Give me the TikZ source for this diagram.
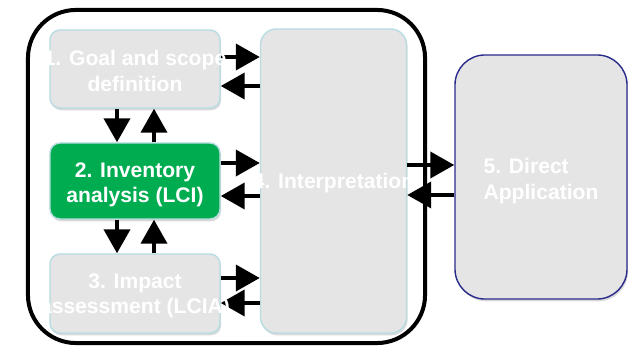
\documentclass[tikz,border=0pt]{standalone}
\usepackage{fontspec}
\setmainfont{Liberation Sans}
\usetikzlibrary{arrows.meta, calc, shadows}
\definecolor{boxGray}{RGB}{229, 229, 229}
\definecolor{boxEdge}{RGB}{183, 221, 226}
\definecolor{lciGreen}{RGB}{0, 172, 80}
\definecolor{appBlue}{RGB}{43, 43, 140}

\begin{document}
\begin{tikzpicture}[x=0.025cm, y=-0.025cm,
    stage/.style={draw=boxEdge, line width=1pt, fill=boxGray, rounded corners=0.25cm,
      minimum width=4.25cm, inner sep=0pt,
      drop shadow={opacity=0.3, shadow xshift=0.8pt, shadow yshift=-1.6pt}},
    stagetext/.style={text=white, font=\fontsize{15}{18}\selectfont\bfseries, align=center, inner sep=0pt, yshift=-0.05cm},
    arr/.style={line width=0.1cm, -{Triangle[length=0.6cm, width=0.65cm]}}]
  \useasboundingbox (0,0) rectangle (628,346);
  \node[draw, line width=0.1cm, rounded corners=1.2cm, minimum width=9.925cm, minimum height=8.325cm] (frame) at (226.5,176.5) {};

  \node[stage, minimum height=1.95cm] (goal) at (135,69) {};
  \node[stage, fill=lciGreen, minimum height=1.9cm] (inv) at (135,181) {};
  \node[stage, minimum height=1.975cm] (imp) at (135,293.5) {};
  \node[stage, minimum width=3.65cm, minimum height=7.6cm, rounded corners=0.4cm] (interp) at (333.5,181) {};
  \node[stage, draw=appBlue, minimum width=4.3cm, minimum height=6.1cm, rounded corners=0.75cm] (app) at (541,177) {};

  % stages 1-3 <-> interpretation
  \foreach \src/\up/\dn in {goal/-12/17, inv/-18/15, imp/-15.5/9.5} {
    \draw[arr] ($(\src.east)+(0,\up)$) -- ($(interp.west |- \src.east)+(0,\up)$);
    \draw[arr] ($(interp.west |- \src.east)+(0,\dn)$) -- ($(\src.east)+(0,\dn)$);
  }
  \draw[arr] ($(goal.south)+(-18,0)$) -- ($(inv.north)+(-18,0)$);
  \draw[arr] ($(inv.north)+(19,0)$) -- ($(goal.south)+(19,0)$);
  \draw[arr] ($(inv.south)+(-18,0)$) -- ($(imp.north)+(-18,0)$);
  \draw[arr] ($(imp.north)+(19,0)$) -- ($(inv.south)+(19,0)$);
  \draw[arr] ($(interp.east |- app.west)+(0,-12)$) -- ($(app.west)+(0,-12)$);
  \draw[arr] ($(app.west)+(0,18)$) -- ($(interp.east |- app.west)+(0,18)$);

  \node[stagetext] (goaltext) at (goal) {1. Goal and scope\\definition};
  \node[stagetext, yshift=-0.05cm] (invtext) at (inv) {2. Inventory\\analysis (LCI)};
  \node[stagetext] (imptext) at (imp) {3. Impact\\assessment (LCIA)};
  \node[stagetext] (interptext) at (interp) {4. Interpretation};
  \node[stagetext, align=left, yshift=-0.05cm] (apptext) at (app) {5. Direct\\Application};
\end{tikzpicture}
\end{document}
